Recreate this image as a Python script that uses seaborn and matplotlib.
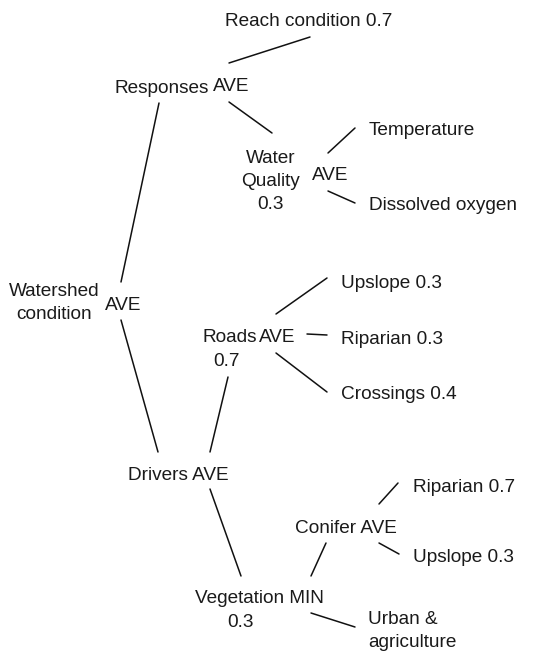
import matplotlib
matplotlib.use("Agg")
import matplotlib.pyplot as plt
import seaborn as sns
import pandas as pd

# Label text, anchor (pixel coords, y down = baseline of last line), horizontal alignment
labels = ["Reach condition 0.7", "Responses", "AVE", "Water\nQuality\n0.3", "AVE",
          "Temperature", "Dissolved oxygen", "Watershed\ncondition", "AVE",
          "Roads", "AVE", "0.7", "Upslope 0.3", "Riparian 0.3", "Crossings 0.4",
          "Drivers AVE", "Riparian 0.7", "Conifer AVE", "Upslope 0.3",
          "Vegetation MIN", "0.3", "Urban &\nagriculture"]
label_x = [225, 114, 213, 271, 312, 369, 369, 54, 105, 202, 259, 227, 341, 341, 341,
           128, 413, 295, 413, 195, 240, 368]
label_y = [26, 93, 91, 209, 180, 135, 210, 319, 310, 342, 342, 366, 288, 344, 399,
           480, 492, 533, 562, 603, 627, 647]
label_ha = ["left", "left", "left", "center", "left", "left", "left", "center", "left",
            "left", "left", "center", "left", "left", "left", "left", "left", "left",
            "left", "left", "center", "left"]

# Connecting lines between nodes
edge_x0 = [229, 159, 229, 328, 328, 121, 276, 307, 276, 228, 210, 379, 379, 326, 311]
edge_y0 = [63, 103, 102, 153, 191, 320, 314, 334, 353, 377, 489, 504, 543, 543, 613]
edge_x1 = [310, 121, 272, 355, 355, 158, 327, 327, 327, 210, 241, 398, 399, 311, 355]
edge_y1 = [37, 282, 133, 128, 203, 452, 278, 335, 392, 452, 576, 483, 554, 576, 627]

sns.set_theme(style="white")
plt.rcParams["font.family"] = ["Liberation Sans", "DejaVu Sans"]

rows = []
for i in range(len(edge_x0)):
    rows.append({"edge": i, "x": edge_x0[i], "y": edge_y0[i]})
    rows.append({"edge": i, "x": edge_x1[i], "y": edge_y1[i]})
edges = pd.DataFrame(rows)

fig = plt.figure(figsize=(5.4, 6.52), dpi=100)
ax = fig.add_axes([0, 0, 1, 1])
sns.lineplot(data=edges, x="x", y="y", units="edge", estimator=None, sort=False,
             color="#111111", linewidth=1.1, ax=ax)

for txt, x, y, ha in zip(labels, label_x, label_y, label_ha):
    ax.text(x, y, txt, ha=ha, va="baseline", fontsize=13.7, color="#1a1a1a",
            linespacing=1.45, multialignment="center" if ha == "center" else "left")

ax.set_xlim(0, 540)
ax.set_ylim(652, 0)
ax.axis("off")
fig.savefig("out.png", dpi=100)
